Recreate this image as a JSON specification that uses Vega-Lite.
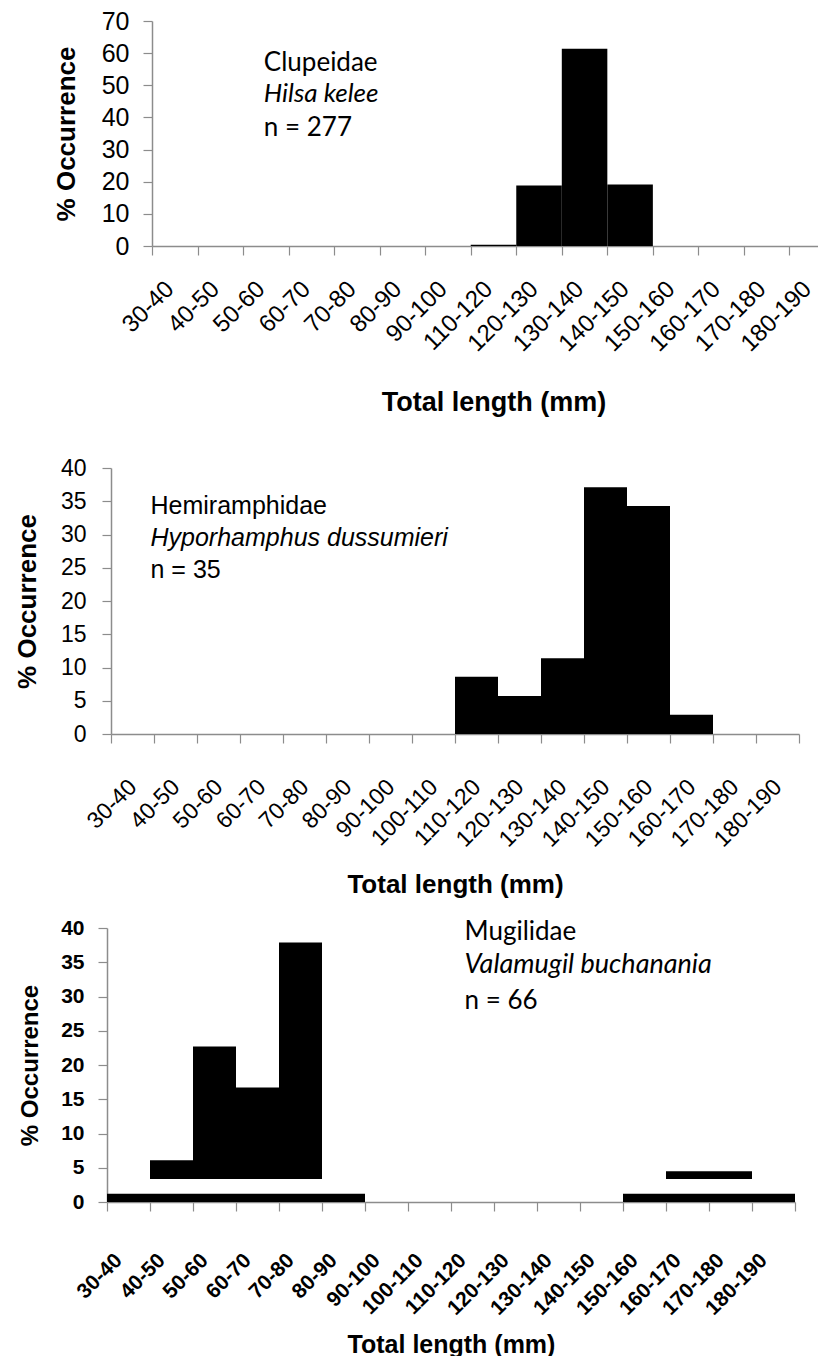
{
  "$schema": "https://vega.github.io/schema/vega-lite/v6.json",
  "background": "white",
  "padding": {"left": 14, "top": 9, "right": -17, "bottom": 0},
  "spacing": 194,
  "bounds": "flush",
  "config": {
    "view": {"stroke": null},
    "font": "Liberation Sans",
    "axis": {"grid": false, "domainColor": "#8c8c8c", "tickColor": "#8c8c8c", "domainWidth": 1.5, "tickWidth": 1.2, "labelColor": "black", "titleColor": "black", "labelFont": "Liberation Sans", "titleFont": "Liberation Sans", "labelOverlap": false, "tickSize": 9, "titleFontWeight": "bold"},
    "axisX": {"labelAngle": -45, "labelAlign": "right", "labelBaseline": "middle", "tickBand": "extent"}
  },
  "datasets": {
    "clupeidae": [
      {"bin": "110-120", "pct": 0.4},
      {"bin": "120-130", "pct": 18.8},
      {"bin": "130-140", "pct": 61.4},
      {"bin": "140-150", "pct": 19.1}
    ],
    "hemiramphidae": [
      {"bin": "110-120", "pct": 8.6},
      {"bin": "120-130", "pct": 5.7},
      {"bin": "130-140", "pct": 11.4},
      {"bin": "140-150", "pct": 37.1},
      {"bin": "150-160", "pct": 34.3},
      {"bin": "160-170", "pct": 2.9}
    ],
    "mugilidae": [
      {"bin": "40-50", "pct": 6.1},
      {"bin": "50-60", "pct": 22.7},
      {"bin": "60-70", "pct": 16.7},
      {"bin": "70-80", "pct": 37.9},
      {"bin": "160-170", "pct": 4.5},
      {"bin": "170-180", "pct": 4.5}
    ],
    "mugilidae_baseline": [
      {"bin": "30-40"}, {"bin": "40-50"}, {"bin": "50-60"}, {"bin": "60-70"}, {"bin": "70-80"}, {"bin": "80-90"},
      {"bin": "150-160"}, {"bin": "160-170"}, {"bin": "170-180"}, {"bin": "180-190"}
    ]
  },
  "vconcat": [
    {
      "width": 728,
      "height": 225,
      "layer": [
        {
          "data": {"name": "clupeidae"},
          "mark": {"type": "bar", "color": "black"},
          "encoding": {
            "x": {
              "field": "bin", "type": "ordinal", "sort": null,
              "scale": {"domain": ["30-40","40-50","50-60","60-70","70-80","80-90","90-100","110-120","120-130","130-140","140-150","150-160","160-170","170-180","180-190"], "range": [45, 728], "paddingInner": 0, "paddingOuter": 0},
              "axis": {"title": "Total length (mm)", "titleFontSize": 27, "titlePadding": 34, "labelFontSize": 24, "labelPadding": 30, "labelOffset": -5}
            },
            "y": {
              "field": "pct", "type": "quantitative",
              "scale": {"domain": [0, 70]},
              "axis": {"title": "% Occurrence", "titleFontSize": 26, "titlePadding": 22, "values": [0,10,20,30,40,50,60,70], "labelFontSize": 25, "labelPadding": 14, "offset": -45}
            }
          }
        },
        {
          "data": {"values": [{}]},
          "mark": {"type": "text", "text": "Clupeidae", "font": "Lato", "fontSize": 26, "align": "left", "baseline": "alphabetic", "color": "black", "dx": -2},
          "encoding": {
            "x": {"datum": "50-60", "type": "ordinal", "axis": {"title": "Total length (mm)", "titleFontSize": 27, "titlePadding": 34, "labelFontSize": 24, "labelPadding": 30, "labelOffset": -5}},
            "y": {"datum": 54.4, "type": "quantitative", "axis": {"title": "% Occurrence", "titleFontSize": 26, "titlePadding": 22, "values": [0,10,20,30,40,50,60,70], "labelFontSize": 25, "labelPadding": 14, "offset": -45}}
          }
        },
        {
          "data": {"values": [{}]},
          "mark": {"type": "text", "text": "Hilsa kelee", "font": "Lato", "fontSize": 26, "fontStyle": "italic", "align": "left", "baseline": "alphabetic", "color": "black", "dx": -2},
          "encoding": {
            "x": {"datum": "50-60", "type": "ordinal", "axis": {"title": "Total length (mm)", "titleFontSize": 27, "titlePadding": 34, "labelFontSize": 24, "labelPadding": 30, "labelOffset": -5}},
            "y": {"datum": 44.8, "type": "quantitative", "axis": {"title": "% Occurrence", "titleFontSize": 26, "titlePadding": 22, "values": [0,10,20,30,40,50,60,70], "labelFontSize": 25, "labelPadding": 14, "offset": -45}}
          }
        },
        {
          "data": {"values": [{}]},
          "mark": {"type": "text", "text": "n = 277", "font": "Lato", "fontSize": 26, "align": "left", "baseline": "alphabetic", "color": "black", "dx": -2},
          "encoding": {
            "x": {"datum": "50-60", "type": "ordinal", "axis": {"title": "Total length (mm)", "titleFontSize": 27, "titlePadding": 34, "labelFontSize": 24, "labelPadding": 30, "labelOffset": -5}},
            "y": {"datum": 34.2, "type": "quantitative", "axis": {"title": "% Occurrence", "titleFontSize": 26, "titlePadding": 22, "values": [0,10,20,30,40,50,60,70], "labelFontSize": 25, "labelPadding": 14, "offset": -45}}
          }
        }
      ]
    },
    {
      "width": 692,
      "height": 294,
      "layer": [
        {
          "data": {"name": "hemiramphidae"},
          "mark": {"type": "bar", "color": "black"},
          "encoding": {
            "x": {
              "field": "bin", "type": "ordinal", "sort": null,
              "scale": {"domain": ["30-40","40-50","50-60","60-70","70-80","80-90","90-100","100-110","110-120","120-130","130-140","140-150","150-160","160-170","170-180","180-190"], "range": [4, 692], "paddingInner": 0, "paddingOuter": 0},
              "axis": {"title": "Total length (mm)", "titleFontSize": 26, "titlePadding": 20, "labelFontSize": 23, "labelPadding": 40}
            },
            "y": {
              "field": "pct", "type": "quantitative",
              "scale": {"domain": [0, 40], "range": [294, 28]},
              "axis": {"title": "% Occurrence", "titleFontSize": 26, "titlePadding": 20, "values": [0,5,10,15,20,25,30,35,40], "labelFontSize": 23, "labelPadding": 16, "offset": -4}
            }
          }
        },
        {
          "data": {"values": [{}]},
          "mark": {"type": "text", "text": "Hemiramphidae", "font": "Liberation Sans", "fontSize": 25, "align": "left", "baseline": "alphabetic", "color": "black", "dx": 18},
          "encoding": {
            "x": {"datum": "30-40", "type": "ordinal", "axis": {"title": "Total length (mm)", "titleFontSize": 26, "titlePadding": 20, "labelFontSize": 23, "labelPadding": 40}},
            "y": {"datum": 33.1, "type": "quantitative", "axis": {"title": "% Occurrence", "titleFontSize": 26, "titlePadding": 20, "values": [0,5,10,15,20,25,30,35,40], "labelFontSize": 23, "labelPadding": 16, "offset": -4}}
          }
        },
        {
          "data": {"values": [{}]},
          "mark": {"type": "text", "text": "Hyporhamphus dussumieri", "font": "Liberation Sans", "fontSize": 25, "fontStyle": "italic", "align": "left", "baseline": "alphabetic", "color": "black", "dx": 18},
          "encoding": {
            "x": {"datum": "30-40", "type": "ordinal", "axis": {"title": "Total length (mm)", "titleFontSize": 26, "titlePadding": 20, "labelFontSize": 23, "labelPadding": 40}},
            "y": {"datum": 28.3, "type": "quantitative", "axis": {"title": "% Occurrence", "titleFontSize": 26, "titlePadding": 20, "values": [0,5,10,15,20,25,30,35,40], "labelFontSize": 23, "labelPadding": 16, "offset": -4}}
          }
        },
        {
          "data": {"values": [{}]},
          "mark": {"type": "text", "text": "n = 35", "font": "Liberation Sans", "fontSize": 25, "align": "left", "baseline": "alphabetic", "color": "black", "dx": 18},
          "encoding": {
            "x": {"datum": "30-40", "type": "ordinal", "axis": {"title": "Total length (mm)", "titleFontSize": 26, "titlePadding": 20, "labelFontSize": 23, "labelPadding": 40}},
            "y": {"datum": 23.5, "type": "quantitative", "axis": {"title": "% Occurrence", "titleFontSize": 26, "titlePadding": 20, "values": [0,5,10,15,20,25,30,35,40], "labelFontSize": 23, "labelPadding": 16, "offset": -4}}
          }
        }
      ]
    },
    {
      "width": 688,
      "height": 274,
      "layer": [
        {
          "data": {"name": "mugilidae"},
          "mark": {"type": "bar", "color": "black"},
          "encoding": {
            "x": {
              "field": "bin", "type": "ordinal", "sort": null,
              "scale": {"domain": ["30-40","40-50","50-60","60-70","70-80","80-90","90-100","100-110","110-120","120-130","130-140","140-150","150-160","160-170","170-180","180-190"], "paddingInner": 0, "paddingOuter": 0},
              "axis": {"title": "Total length (mm)", "titleFontSize": 25, "titlePadding": 14, "labelFontSize": 21, "labelFontWeight": "bold", "labelPadding": 46, "labelOffset": -10}
            },
            "y": {
              "field": "pct", "type": "quantitative",
              "scale": {"domain": [0, 40]},
              "axis": {"title": "% Occurrence", "titleFontSize": 24, "titlePadding": 18, "values": [0,5,10,15,20,25,30,35,40], "labelFontSize": 21, "labelFontWeight": "bold", "labelPadding": 14}
            },
            "y2": {"datum": 3.35}
          }
        },
        {
          "data": {"name": "mugilidae_baseline"},
          "mark": {"type": "bar", "color": "black"},
          "encoding": {
            "x": {"field": "bin", "type": "ordinal", "sort": null, "axis": {"title": "Total length (mm)", "titleFontSize": 25, "titlePadding": 14, "labelFontSize": 21, "labelFontWeight": "bold", "labelPadding": 46, "labelOffset": -10}},
            "y": {"datum": 0, "type": "quantitative", "axis": {"title": "% Occurrence", "titleFontSize": 24, "titlePadding": 18, "values": [0,5,10,15,20,25,30,35,40], "labelFontSize": 21, "labelFontWeight": "bold", "labelPadding": 14}},
            "y2": {"datum": 1.2}
          }
        },
        {
          "data": {"values": [{}]},
          "mark": {"type": "text", "text": "Mugilidae", "font": "Lato", "fontSize": 26, "align": "left", "baseline": "alphabetic", "color": "black", "dx": -8},
          "encoding": {
            "x": {"datum": "110-120", "type": "ordinal", "axis": {"title": "Total length (mm)", "titleFontSize": 25, "titlePadding": 14, "labelFontSize": 21, "labelFontWeight": "bold", "labelPadding": 46, "labelOffset": -10}},
            "y": {"datum": 38.2, "type": "quantitative", "axis": {"title": "% Occurrence", "titleFontSize": 24, "titlePadding": 18, "values": [0,5,10,15,20,25,30,35,40], "labelFontSize": 21, "labelFontWeight": "bold", "labelPadding": 14}}
          }
        },
        {
          "data": {"values": [{}]},
          "mark": {"type": "text", "text": "Valamugil buchanania", "font": "Lato", "fontSize": 27, "fontStyle": "italic", "align": "left", "baseline": "alphabetic", "color": "black", "dx": -8},
          "encoding": {
            "x": {"datum": "110-120", "type": "ordinal", "axis": {"title": "Total length (mm)", "titleFontSize": 25, "titlePadding": 14, "labelFontSize": 21, "labelFontWeight": "bold", "labelPadding": 46, "labelOffset": -10}},
            "y": {"datum": 33.4, "type": "quantitative", "axis": {"title": "% Occurrence", "titleFontSize": 24, "titlePadding": 18, "values": [0,5,10,15,20,25,30,35,40], "labelFontSize": 21, "labelFontWeight": "bold", "labelPadding": 14}}
          }
        },
        {
          "data": {"values": [{}]},
          "mark": {"type": "text", "text": "n = 66", "font": "Lato", "fontSize": 26, "align": "left", "baseline": "alphabetic", "color": "black", "dx": -8},
          "encoding": {
            "x": {"datum": "110-120", "type": "ordinal", "axis": {"title": "Total length (mm)", "titleFontSize": 25, "titlePadding": 14, "labelFontSize": 21, "labelFontWeight": "bold", "labelPadding": 46, "labelOffset": -10}},
            "y": {"datum": 28.2, "type": "quantitative", "axis": {"title": "% Occurrence", "titleFontSize": 24, "titlePadding": 18, "values": [0,5,10,15,20,25,30,35,40], "labelFontSize": 21, "labelFontWeight": "bold", "labelPadding": 14}}
          }
        }
      ]
    }
  ]
}
